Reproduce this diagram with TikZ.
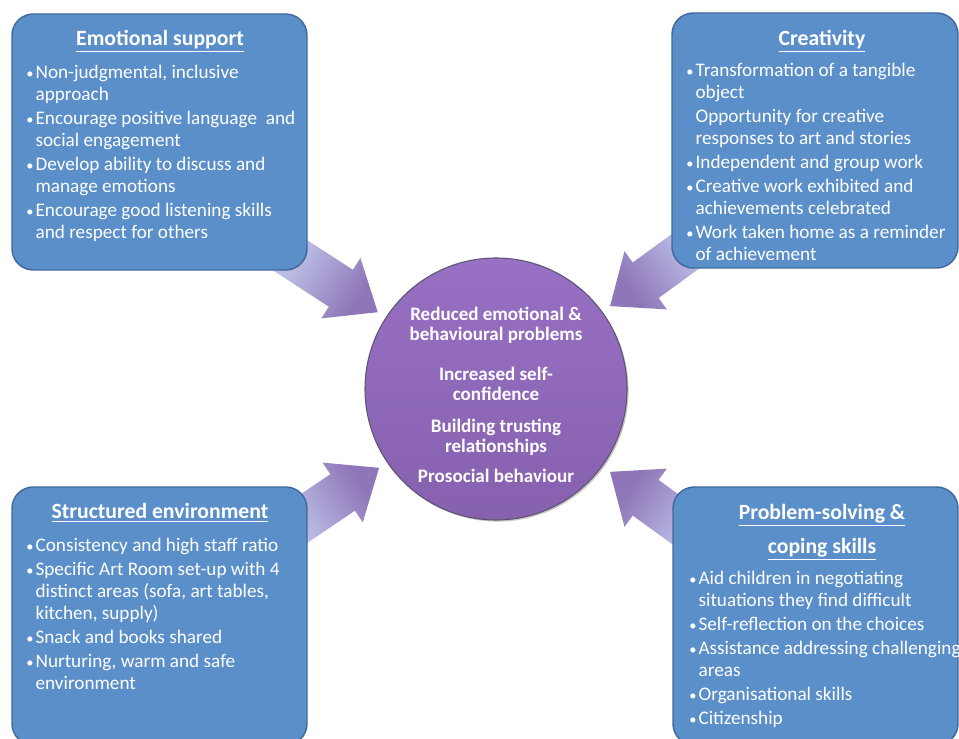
\documentclass[tikz,border=0pt]{standalone}
\usepackage{fontspec}
\setmainfont{Carlito}
\usetikzlibrary{calc,shadows}
\definecolor{boxblue}{HTML}{5B8FCA}
\definecolor{boxedge}{HTML}{41699B}
\definecolor{hubtop}{HTML}{9870C4}
\definecolor{hubbottom}{HTML}{8661AE}
\definecolor{hubedge}{HTML}{5E5470}
\definecolor{arrowtail}{HTML}{BFD0EE}
\definecolor{arrowmid}{HTML}{B9BAE3}
\definecolor{arrowtip}{HTML}{8F76B8}
\newcommand{\bul}{\makebox[7pt][l]{\scalebox{0.75}{\textbullet}}}
\newcommand{\cont}{\hspace*{7pt}}
\newcommand{\blockarrow}[1]{%
  \shade[left color=arrowtail, right color=arrowtip, middle color=arrowmid, shading angle=#1+270,
    shift={($(hub)+(#1:141)$)}, rotate=#1+180]
    (0,0) -- (-44,36) -- (-44,22) -- (-170,22) -- (-170,-22) -- (-44,-22) -- (-44,-36) -- cycle;}
\begin{document}
\begin{tikzpicture}[x=0.75pt,y=0.75pt]
  \tikzstyle{every node}=[text=white]
  \tikzstyle{panel}=[draw=boxedge, line width=1.1pt, fill=boxblue, rounded corners=16pt, inner sep=0pt]
  \tikzstyle{head}=[font=\fontsize{16.3}{19}\selectfont\bfseries, anchor=base, align=center]
  \tikzstyle{items}=[font=\fontsize{14.4}{16.5}\selectfont, align=left, anchor=north west, inner sep=0pt]

  \useasboundingbox (0,0) rectangle (959,738);

  \node [circle, draw=hubedge, line width=0.8pt, top color=hubtop, bottom color=hubbottom,
    drop shadow={opacity=0.45, shadow xshift=1.2pt, shadow yshift=-1.2pt},
    minimum size=196.5pt, inner sep=0pt] (hub) at (496,349) {};
  \node [align=center, font=\fontsize{14.3}{15}\selectfont\bfseries] (hubtxt) at ([yshift=-4.5pt]hub.center)
    {Reduced emotional \&\\behavioural problems\\[15pt]Increased self-\\confidence\\[9pt]Building trusting\\relationships\\[7.5pt]Prosocial behaviour};

  \blockarrow{147}
  \blockarrow{36}
  \blockarrow{214}
  \blockarrow{324}

  \node [panel, minimum width=221.25pt, minimum height=192pt] (emo) at (159.5,596) {};
  \node [panel, minimum width=214.5pt, minimum height=191.25pt] (cre) at (815,597.5) {};
  \node [panel, minimum width=221.25pt, minimum height=193.5pt] (env) at (159.5,122) {};
  \node [panel, minimum width=213.75pt, minimum height=193.5pt] (cop) at (815.5,122) {};

  \node [head] (emohead) at (160,692) {\underline{Emotional support}};
  \node [items] (emotxt) at (26,673) {\bul Non-judgmental, inclusive\\\cont approach\\[1.5pt]\bul Encourage positive language\ \ and\\\cont social engagement\\[1.5pt]\bul Develop ability to discuss and\\\cont manage emotions\\[1.5pt]\bul Encourage good listening skills\\\cont and respect for others};

  \node [head] (crehead) at (822,692) {\underline{Creativity}};
  \node [items] (cretxt) at (686,675) {\bul Transformation of a tangible\\\cont object\\[1.5pt]\cont Opportunity for creative\\\cont responses to art and stories\\[1.5pt]\bul Independent and group work\\[1.5pt]\bul Creative work exhibited and\\\cont achievements celebrated\\[1.5pt]\bul Work taken home as a reminder\\\cont of achievement};

  \node [head] (envhead) at (160,219) {\underline{Structured environment}};
  \node [items] (envtxt) at (26,200) {\bul Consistency and high staff ratio\\[1.5pt]\bul Specific Art Room set-up with 4\\\cont distinct areas (sofa, art tables,\\\cont kitchen, supply)\\[1.5pt]\bul Snack and books shared\\[1.5pt]\bul Nurturing, warm and safe\\\cont environment};

  \node [head] (cophead) at (822,184) {\underline{Problem-solving \&}\\[7pt]\underline{coping skills}};
  \node [items] (coptxt) at (689,167) {\bul Aid children in negotiating\\\cont situations they find difficult\\[1.5pt]\bul Self-reflection on the choices\\[1.5pt]\bul Assistance addressing challenging\\\cont areas\\[1.5pt]\bul Organisational skills\\[1.5pt]\bul Citizenship};
\end{tikzpicture}
\end{document}
